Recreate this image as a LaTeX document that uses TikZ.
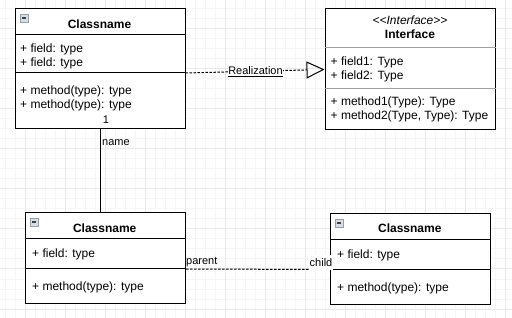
\documentclass[tikz,border=0pt]{standalone}
\usepackage{fontspec}
\setmainfont{Liberation Sans}
\usetikzlibrary{positioning, arrows.meta}

\definecolor{gridminor}{RGB}{246,246,246}
\definecolor{gridmajor}{RGB}{233,233,233}
\definecolor{divgray}{RGB}{160,160,160}

\begin{document}
\begin{tikzpicture}[x=1pt, y=-1pt,
  classbox/.style={draw, line width=1pt, fill=white, inner sep=0pt},
  txt/.style={anchor=base west, inner sep=0pt, font=\fontsize{12}{14}\selectfont},
  title/.style={anchor=base, inner sep=0pt, font=\fontsize{12}{14}\selectfont\bfseries},
  lbl/.style={inner sep=0pt, font=\fontsize{11}{13}\selectfont},
  icon/.style={draw={rgb,255:red,150;green,160;blue,170}, fill={rgb,255:red,214;green,221;blue,229},
    minimum size=8pt, inner sep=0pt, line width=0.8pt,
    path picture={\draw[line width=1.2pt, black!75] ([xshift=2pt]path picture bounding box.west) -- ([xshift=-2pt]path picture bounding box.east);}},
  dashline/.style={line width=1pt, dash pattern=on 2.5pt off 1.5pt}
]
\useasboundingbox (0,0) rectangle (512,318);

% Rejilla
\foreach \gx in {5,15,...,505} \draw[gridminor, line width=1pt] (\gx,0) -- (\gx,318);
\foreach \gy in {9,19,...,309} \draw[gridminor, line width=1pt] (0,\gy) -- (512,\gy);
\foreach \gx in {25,65,...,505} \draw[gridmajor, line width=1pt] (\gx,0) -- (\gx,318);
\foreach \gy in {29,69,...,309} \draw[gridmajor, line width=1pt] (0,\gy) -- (512,\gy);

% Clase 1
\node[classbox, minimum width=170pt, minimum height=120pt] (c1) at (100,69) {};
\draw[line width=1pt] ([yshift=-26pt]c1.north west) -- ([yshift=-26pt]c1.north east);
\draw[line width=1pt] ([yshift=-64pt]c1.north west) -- ([yshift=-64pt]c1.north east);
\node[icon] (c1icon) at (24,18) {};
\node[title] (c1name) at (99.5,28.5) {Classname};
\node[txt] (c1f1) at (20,53) {+ field: type};
\node[txt] (c1f2) at (20,67) {+ field: type};
\node[txt] (c1m1) at (20,95) {+ method(type): type};
\node[txt] (c1m2) at (20,109) {+ method(type): type};

% Interfaz
\node[classbox, minimum width=170pt, minimum height=121pt] (ci) at (410,69.5) {};
\draw[divgray, line width=1pt] ([yshift=-39pt]ci.north west) -- ([yshift=-39pt]ci.north east);
\draw[divgray, line width=1pt] ([yshift=-80pt]ci.north west) -- ([yshift=-80pt]ci.north east);
\node[anchor=base, inner sep=0pt, font=\fontsize{12}{14}\selectfont\itshape] (cistereo) at (410,25) {<{}<Interface>{}>};
\node[title] (ciname) at (410,39) {Interface};
\node[txt] (cif1) at (330.5,66) {+ field1: Type};
\node[txt] (cif2) at (330.5,80) {+ field2: Type};
\node[txt] (cim1) at (330.5,106) {+ method1(Type): Type};
\node[txt] (cim2) at (330.5,120) {+ method2(Type, Type): Type};

% Clase 3
\node[classbox, minimum width=160pt, minimum height=90pt] (c3) at (105.5,258) {};
\draw[line width=1pt] ([yshift=-26pt]c3.north west) -- ([yshift=-26pt]c3.north east);
\draw[line width=1pt] ([yshift=-56pt]c3.north west) -- ([yshift=-56pt]c3.north east);
\node[icon] (c3icon) at (34,222) {};
\node[title] (c3name) at (104.7,232.3) {Classname};
\node[txt] (c3f1) at (32,257.3) {+ field: type};
\node[txt] (c3m1) at (32,290.7) {+ method(type): type};

% Clase 4
\node[classbox, minimum width=160pt, minimum height=90pt] (c4) at (410.5,259) {};
\draw[line width=1pt] ([yshift=-26pt]c4.north west) -- ([yshift=-26pt]c4.north east);
\draw[line width=1pt] ([yshift=-56pt]c4.north west) -- ([yshift=-56pt]c4.north east);
\node[icon] (c4icon) at (339,223) {};
\node[title] (c4name) at (409.8,233) {Classname};
\node[txt] (c4f1) at (337,258.3) {+ field: type};
\node[txt] (c4m1) at (337,291.3) {+ method(type): type};

% Realización
\draw[dashline, -{Triangle[open, length=18pt, width=17pt]}] ([yshift=-4pt]c1.east) -- (ci.west);
\node[lbl, anchor=base, fill=white, inner ysep=1.5pt] (real) at (255.5,75) {\underline{Realization}};

% Asociación
\draw[line width=1pt] (c1.south) -- (c1.south |- c3.north);
\node[lbl, anchor=base] (mult) at (106,124) {1};
\node[lbl, anchor=base west] (role) at (102,145.3) {name};

% Padre - hijo
\draw[dashline] ([yshift=-11pt]c3.east) -- ([yshift=-10.5pt]c4.west);
\node[lbl, anchor=base west] (parent) at (186,265) {parent};
\node[lbl, anchor=base west, fill=white, inner xsep=1pt, inner ysep=3.5pt] (child) at (308.5,266.7) {child};
\end{tikzpicture}
\end{document}
